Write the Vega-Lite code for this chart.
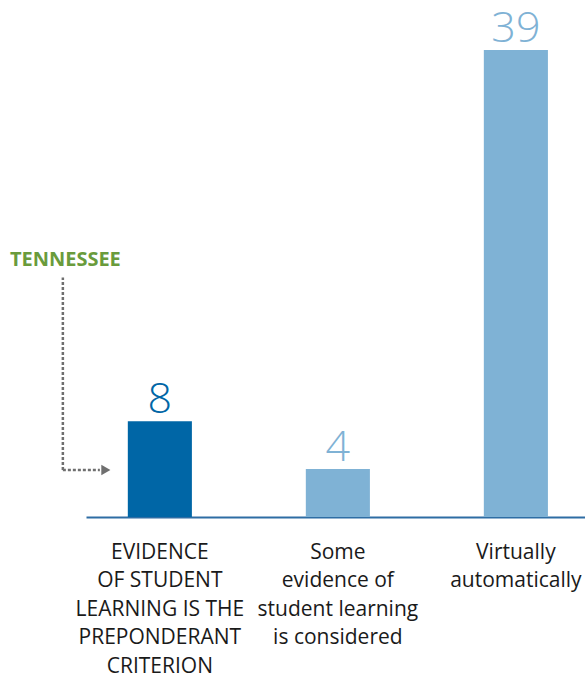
{
  "$schema": "https://vega.github.io/schema/vega-lite/v6.json",
  "width": 499,
  "height": 467,
  "autosize": "none",
  "padding": {"left": 86, "top": 50, "right": 0, "bottom": 159},
  "background": "white",
  "config": {"view": {"stroke": null}, "font": "Open Sans"},
  "datasets": {
    "bars": [
      {"category": "EVIDENCE|OF STUDENT|LEARNING IS THE|PREPONDERANT|CRITERION", "count": 8, "group": "Tennessee"},
      {"category": "Some|evidence of|student learning|is considered", "count": 4, "group": "Other"},
      {"category": "Virtually|automatically", "count": 39, "group": "Other"}
    ],
    "annot": [
      {"category": "EVIDENCE|OF STUDENT|LEARNING IS THE|PREPONDERANT|CRITERION", "label": "TENNESSEE", "labelY": 21.5, "lineTop": 20, "lineBottom": 3.93}
    ]
  },
  "layer": [
    {
      "data": {"name": "bars"},
      "mark": {"type": "bar"},
      "encoding": {
        "x": {
          "field": "category", "type": "nominal", "sort": null,
          "scale": {"paddingInner": 0.64, "paddingOuter": 0.2216, "align": 0.53},
          "axis": {
            "title": null, "domainColor": "#2e6da4", "domainWidth": 2, "ticks": false,
            "labelFontSize": 21, "labelColor": "#1a1a1a", "labelLineHeight": 28.5,
            "labelPadding": 24, "labelExpr": "split(datum.label, '|')", "labelAngle": 0,
            "labelLimit": 0, "grid": false
          }
        },
        "y": {"field": "count", "type": "quantitative", "scale": {"domain": [0, 39], "nice": false}, "axis": null},
        "color": {"field": "group", "type": "nominal", "scale": {"domain": ["Tennessee", "Other"], "range": ["#0066a6", "#7fb2d5"]}, "legend": null}
      }
    },
    {
      "data": {"name": "bars"},
      "mark": {"type": "text", "baseline": "alphabetic", "dy": -8, "fontSize": 43, "fontWeight": 300},
      "encoding": {
        "x": {"field": "category", "type": "nominal", "sort": null},
        "y": {"field": "count", "type": "quantitative"},
        "text": {"field": "count", "type": "quantitative"},
        "color": {"field": "group", "type": "nominal", "legend": null}
      }
    },
    {
      "data": {"name": "annot"},
      "mark": {"type": "text", "dx": -94.5, "baseline": "middle", "fontSize": 20, "fontWeight": "bold", "color": "#6a9b3c"},
      "encoding": {
        "x": {"field": "category", "type": "nominal", "sort": null},
        "y": {"field": "labelY", "type": "quantitative"},
        "text": {"field": "label"}
      }
    },
    {
      "data": {"name": "annot"},
      "mark": {"type": "rule", "xOffset": -97, "strokeDash": [3, 2], "strokeWidth": 2.5, "color": "#6f6f6f"},
      "encoding": {
        "x": {"field": "category", "type": "nominal", "sort": null},
        "y": {"field": "lineBottom", "type": "quantitative"},
        "y2": {"field": "lineTop"}
      }
    },
    {
      "data": {"name": "annot"},
      "mark": {"type": "rule", "xOffset": -97, "x2Offset": -60, "strokeDash": [3, 2], "strokeWidth": 2.5, "color": "#6f6f6f"},
      "encoding": {
        "x": {"field": "category", "type": "nominal", "sort": null},
        "x2": {"field": "category"},
        "y": {"field": "lineBottom", "type": "quantitative"}
      }
    },
    {
      "data": {"name": "annot"},
      "mark": {"type": "point", "shape": "triangle-right", "filled": true, "opacity": 1, "size": 110, "xOffset": -54, "color": "#6f6f6f"},
      "encoding": {
        "x": {"field": "category", "type": "nominal", "sort": null},
        "y": {"field": "lineBottom", "type": "quantitative"}
      }
    }
  ]
}
